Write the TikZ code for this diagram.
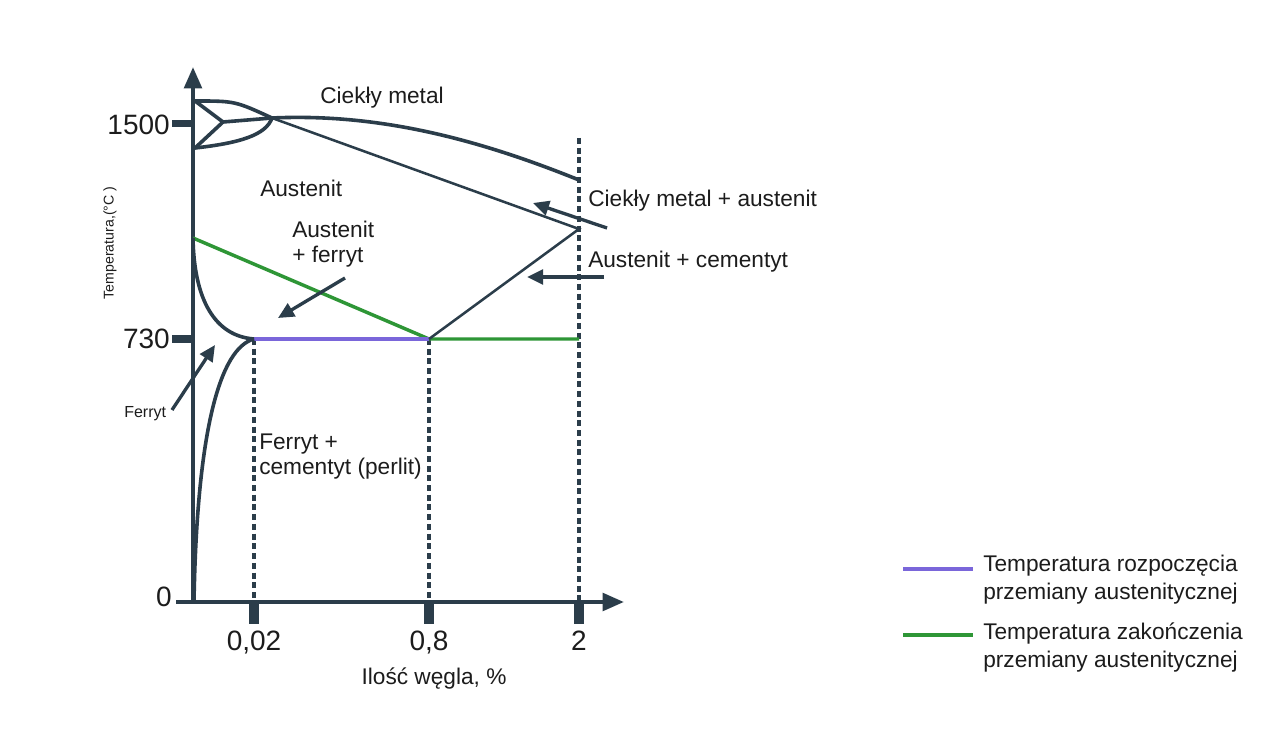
\documentclass[tikz,border=0pt]{standalone}
\usepackage{fontspec}
\setmainfont{Liberation Sans}
\usetikzlibrary{arrows.meta}
\definecolor{ink}{HTML}{2B3D4A}
\definecolor{grn}{HTML}{2E9636}
\definecolor{prp}{HTML}{7A66DA}
\definecolor{txt}{HTML}{1C1C1C}
\begin{document}
\begin{tikzpicture}[x=0.75pt,y=-0.75pt,
  axisline/.style={draw=ink,line width=3.2pt},
  curveline/.style={draw=ink,line width=2.7pt},
  thinline/.style={draw=ink,line width=1.9pt},
  guide/.style={draw=ink,line width=2.4pt,dash pattern=on 4.5pt off 2.8pt},
  ptr/.style={draw=ink,line width=2.5pt,-{Triangle[length=12pt,width=11pt]}},
  lbl/.style={font=\fontsize{17}{20}\selectfont,inner sep=0pt,text=txt},
  num/.style={font=\fontsize{21}{24}\selectfont,inner sep=0pt,text=txt},
  small/.style={font=\fontsize{12}{14}\selectfont,inner sep=0pt,text=txt},
  tickbox/.style={fill=ink,draw=none}]
\useasboundingbox (0,0) rectangle (1280,755);
\fill[white] (0,0) rectangle (1280,755);

% key points
\coordinate (O) at (193,602);
\coordinate (Ytop) at (193,67);
\coordinate (Xend) at (624,602);
\coordinate (X0) at (176,602);
\coordinate (A) at (195,101);
\coordinate (B) at (223,122);
\coordinate (C) at (195,148);
\coordinate (P) at (272,118);
\coordinate (L) at (579,180);
\coordinate (E) at (579,229);
\coordinate (G0) at (193,238);
\coordinate (S) at (254,339);
\coordinate (Eu) at (429,339);
\coordinate (R) at (579,339);
\coordinate (F0) at (194,601);

% dashed guides
\draw[guide] (S) -- (254,600);
\draw[guide] (Eu) -- (429,600);
\draw[guide] (579,138) -- (579,600);

% ticks
\fill[tickbox] (249,602) rectangle (259,624);
\fill[tickbox] (424,602) rectangle (434,624);
\fill[tickbox] (574,602) rectangle (584,624);
\fill[tickbox] (172,120) rectangle (193,127.5);
\fill[tickbox] (172,335) rectangle (193,343);

% axes
\draw[axisline,-{Triangle[length=16pt,width=13pt]}] (O) -- (Ytop);
\draw[axisline,-{Triangle[length=16pt,width=13pt]}] (X0) -- (Xend);

% green and purple lines
\draw[grn,line width=2.6pt] (G0) -- (Eu) -- (R);
\draw[prp,line width=2.6pt] (S) -- (Eu);

% phase boundaries
\draw[curveline] (A) .. controls (235,101) .. (P);
\draw[thinline] (P) -- (E) -- (Eu);
\draw[curveline,line join=round] (A) -- (B) -- (C);
\draw[curveline] (B) -- (P);
\draw[curveline] (P) .. controls (380,113) and (480,140) .. (L);
\draw[curveline] (C) .. controls (240,143) and (266,135) .. (P);
\draw[curveline] (G0) .. controls (194,300) and (215,336) .. (S);
\draw[curveline] (S) .. controls (220,348) and (197,430) .. (F0);

% pointer arrows
\coordinate (t1) at (607,228); \coordinate (h1) at (533,203);
\coordinate (t2) at (604,277); \coordinate (h2) at (527,277);
\coordinate (t3) at (345,278); \coordinate (h3) at (278,318);
\coordinate (t4) at (172,410); \coordinate (h4) at (215,345);
\draw[ptr] (t1) -- (h1);
\draw[ptr] (t2) -- (h2);
\draw[ptr] (t3) -- (h3);
\draw[ptr] (t4) -- (h4);

% axis labels
\node[num,anchor=base east] (n1500) at (170,135) {1500};
\node[num,anchor=base east] (n730) at (170,349) {730};
\node[num,anchor=base east] (n0) at (172,606) {0};
\node[num,anchor=base] (x002) at (254,650) {0,02};
\node[num,anchor=base] (x08) at (429,650) {0,8};
\node[num,anchor=base] (x2) at (579,650) {2};
\node[lbl,anchor=base] (xlab) at (434,684) {Ilość węgla, \%};
\node[inner sep=0pt,text=txt,font=\fontsize{10.6}{12}\selectfont,rotate=90] (ylab) at (110,243) {Temperatura,(°C )};

% region labels
\node[lbl,anchor=base] (liq) at (382,104) {Ciekły metal};
\node[lbl,anchor=base west] (aus) at (260,197) {Austenit};
\node[lbl,anchor=base west] (af1) at (292,238) {Austenit};
\node[lbl,anchor=base west] (af2) at (292,263) {+ ferryt};
\node[lbl,anchor=base west] (la) at (588,207) {Ciekły metal + austenit};
\node[lbl,anchor=base west] (ac) at (588,268) {Austenit + cementyt};
\node[lbl,anchor=base west] (fc1) at (259,449) {Ferryt +};
\node[lbl,anchor=base west] (fc2) at (259,474) {cementyt (perlit)};
\node[small,anchor=base west] (fer) at (124,417) {Ferryt};

% legend
\coordinate (lg1a) at (903,569); \coordinate (lg1b) at (973,569);
\coordinate (lg2a) at (903,635); \coordinate (lg2b) at (973,635);
\draw[prp,line width=2.8pt] (lg1a) -- (lg1b);
\draw[grn,line width=2.8pt] (lg2a) -- (lg2b);
\node[lbl,anchor=base west] (lt1) at (983,571) {Temperatura rozpoczęcia};
\node[lbl,anchor=base west] (lt2) at (983,599) {przemiany austenitycznej};
\node[lbl,anchor=base west] (lt3) at (983,639) {Temperatura zakończenia};
\node[lbl,anchor=base west] (lt4) at (983,667) {przemiany austenitycznej};
\end{tikzpicture}
\end{document}
